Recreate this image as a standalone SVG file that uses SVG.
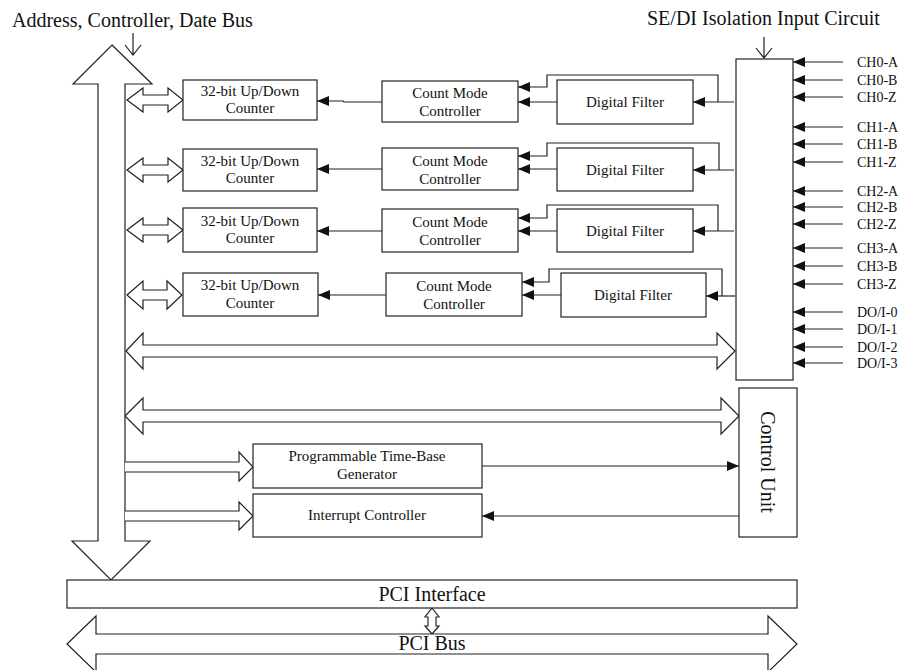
<svg xmlns="http://www.w3.org/2000/svg" width="902" height="670" viewBox="0 0 902 670">
<style>
  .box{fill:#fff;stroke:#222;stroke-width:1.2}
  .fat{fill:#fff;stroke:#222;stroke-width:1.2;stroke-linejoin:miter}
  .ln{fill:none;stroke:#222;stroke-width:1.2}
  .arr{fill:none;stroke:#222;stroke-width:1.2;marker-end:url(#ah)}
  text{font-family:"Liberation Serif","Times New Roman",serif;fill:#111}
  .t15{font-size:15px;text-anchor:middle}
  .t14{font-size:14px}
  .t19{font-size:20px}
  .t20{font-size:20px;text-anchor:middle}
</style>
<defs>
  <marker id="ah" markerWidth="12" markerHeight="10" refX="12" refY="5" orient="auto" markerUnits="userSpaceOnUse">
    <path d="M0,0 L12,5 L0,10 Z" fill="#111"/>
  </marker>
</defs>
<rect width="902" height="670" fill="#fff"/>

<!-- Titles -->
<g id="title-bus">
  <text class="t19" x="12" y="27">Address, Controller, Date Bus</text>
  <path class="ln" d="M133,33 L133,55 M125,45 L133,55 L141,45"/>
</g>
<g id="title-iso">
  <text class="t19" x="647" y="25">SE/DI Isolation Input Circuit</text>
  <path class="ln" d="M764,37 L764,58 M756,48 L764,58 L772,48"/>
</g>

<!-- Main vertical bus -->
<g id="bus-vertical">
  <path class="fat" d="M112,45 L152,84 L125,84 L125,541 L150,541 L111,580 L72,541 L98,541 L98,84 L73,84 Z"/>
</g>

<!-- Connectors -->
<g id="connectors">
  <!-- small double arrows bus<->counter -->
  <path class="fat" d="M127,100 L143,88 L143,95 L168,95 L168,88 L183,100 L168,112 L168,105 L143,105 L143,112 Z"/>
  <path class="fat" d="M127,170 L143,158 L143,165 L168,165 L168,158 L183,170 L168,182 L168,175 L143,175 L143,182 Z"/>
  <path class="fat" d="M127,230 L143,218 L143,225 L168,225 L168,218 L183,230 L168,242 L168,235 L143,235 L143,242 Z"/>
  <path class="fat" d="M127,295 L143,281 L143,290 L167,290 L167,281 L182,295 L167,309 L167,300 L143,300 L143,309 Z"/>

  <!-- CMC -> counter -->
  <path class="arr" d="M382,102 L344,102 L343,101 L317,101"/>
  <path class="arr" d="M382,169 L317,169"/>
  <path class="arr" d="M382,231 L317,231"/>
  <path class="arr" d="M386,295 L318,295"/>

  <!-- Filter -> CMC -->
  <path class="arr" d="M557,102 L518,102"/>
  <path class="arr" d="M557,169 L518,169"/>
  <path class="arr" d="M557,231 L518,231"/>
  <path class="arr" d="M561,295 L522,295"/>

  <!-- Isolation -> filter -->
  <path class="arr" d="M734,102 L693,102"/>
  <path class="arr" d="M734,170 L693,170"/>
  <path class="arr" d="M734,231 L693,231"/>
  <path class="arr" d="M735,296 L706,296"/>

  <!-- Feedback bypass -> CMC -->
  <path class="arr" d="M718,102 L718,75 L547,75 L547,87 L518,87"/>
  <path class="arr" d="M719,170 L719,143 L547,143 L547,156 L518,156"/>
  <path class="arr" d="M718,231 L718,205 L547,205 L547,218 L518,218"/>
  <path class="arr" d="M722,296 L722,269 L549,269 L549,282 L522,282"/>

  <!-- Wide buses -->
  <path class="fat" d="M126,351 L143,333 L143,345 L717,345 L717,333 L735,351 L717,369 L717,357 L143,357 L143,369 Z"/>
  <path class="fat" d="M125,416 L143,398 L143,410 L721,410 L721,398 L739,416 L721,434 L721,422 L143,422 L143,434 Z"/>

  <!-- Bus -> PTBG / Interrupt -->
  <path class="fat" d="M125,462 L239,462 L239,452 L253,467 L239,481 L239,472 L125,472"/>
  <path class="fat" d="M125,511 L239,511 L239,502 L253,516 L239,530 L239,521 L125,521"/>

  <!-- PTBG -> CU, CU -> Interrupt -->
  <path class="arr" d="M482,466 L739,466"/>
  <path class="arr" d="M739,516 L482,516"/>

  <!-- Channel inputs -->
  <path class="arr" d="M843,62 L793,62"/>
  <path class="arr" d="M843,80 L793,80"/>
  <path class="arr" d="M843,97 L793,97"/>
  <path class="arr" d="M843,127 L793,127"/>
  <path class="arr" d="M843,144 L793,144"/>
  <path class="arr" d="M843,162 L793,162"/>
  <path class="arr" d="M843,191 L793,191"/>
  <path class="arr" d="M843,207 L793,207"/>
  <path class="arr" d="M843,224 L793,224"/>
  <path class="arr" d="M843,248 L793,248"/>
  <path class="arr" d="M843,266 L793,266"/>
  <path class="arr" d="M843,284 L793,284"/>
  <path class="arr" d="M843,312 L793,312"/>
  <path class="arr" d="M843,329 L793,329"/>
  <path class="arr" d="M843,347 L793,347"/>
  <path class="arr" d="M843,363 L793,363"/>

  <!-- PCI interface <-> PCI bus -->
  <path class="fat" d="M432,608 L439,617 L436,617 L436,626 L439,626 L432,634 L425,626 L428,626 L428,617 L425,617 Z"/>
</g>

<!-- Counters -->
<g id="counter0"><rect class="box" x="183" y="80" width="134" height="40"/><text class="t15" x="250" y="96">32-bit Up/Down</text><text class="t15" x="250" y="113">Counter</text></g>
<g id="counter1"><rect class="box" x="183" y="149" width="134" height="42"/><text class="t15" x="250" y="166">32-bit Up/Down</text><text class="t15" x="250" y="183">Counter</text></g>
<g id="counter2"><rect class="box" x="183" y="208" width="134" height="44"/><text class="t15" x="250" y="226">32-bit Up/Down</text><text class="t15" x="250" y="243">Counter</text></g>
<g id="counter3"><rect class="box" x="183" y="273" width="135" height="43"/><text class="t15" x="250" y="290">32-bit Up/Down</text><text class="t15" x="250" y="308">Counter</text></g>

<!-- Count Mode Controllers -->
<g id="cmc0"><rect class="box" x="382" y="81" width="136" height="41"/><text class="t15" x="450" y="98">Count Mode</text><text class="t15" x="450" y="116">Controller</text></g>
<g id="cmc1"><rect class="box" x="382" y="148" width="136" height="42"/><text class="t15" x="450" y="166">Count Mode</text><text class="t15" x="450" y="184">Controller</text></g>
<g id="cmc2"><rect class="box" x="382" y="209" width="136" height="43"/><text class="t15" x="450" y="227">Count Mode</text><text class="t15" x="450" y="245">Controller</text></g>
<g id="cmc3"><rect class="box" x="386" y="273" width="136" height="43"/><text class="t15" x="454" y="291">Count Mode</text><text class="t15" x="454" y="309">Controller</text></g>

<!-- Digital Filters -->
<g id="filter0"><rect class="box" x="557" y="80" width="136" height="44"/><text class="t15" x="625" y="107">Digital Filter</text></g>
<g id="filter1"><rect class="box" x="557" y="148" width="136" height="43"/><text class="t15" x="625" y="175">Digital Filter</text></g>
<g id="filter2"><rect class="box" x="557" y="209" width="136" height="43"/><text class="t15" x="625" y="236">Digital Filter</text></g>
<g id="filter3"><rect class="box" x="561" y="273" width="145" height="44"/><text class="t15" x="633" y="300">Digital Filter</text></g>

<!-- Isolation input circuit -->
<g id="isolation"><rect class="box" x="736" y="59" width="57" height="321"/></g>

<!-- Channel labels -->
<g id="channel-labels">
  <text class="t14" x="857" y="67">CH0-A</text>
  <text class="t14" x="857" y="85">CH0-B</text>
  <text class="t14" x="857" y="102">CH0-Z</text>
  <text class="t14" x="857" y="132">CH1-A</text>
  <text class="t14" x="857" y="149">CH1-B</text>
  <text class="t14" x="857" y="167">CH1-Z</text>
  <text class="t14" x="857" y="196">CH2-A</text>
  <text class="t14" x="857" y="212">CH2-B</text>
  <text class="t14" x="857" y="229">CH2-Z</text>
  <text class="t14" x="857" y="253">CH3-A</text>
  <text class="t14" x="857" y="271">CH3-B</text>
  <text class="t14" x="857" y="289">CH3-Z</text>
  <text class="t14" x="857" y="317">DO/I-0</text>
  <text class="t14" x="857" y="334">DO/I-1</text>
  <text class="t14" x="857" y="352">DO/I-2</text>
  <text class="t14" x="857" y="368">DO/I-3</text>
</g>

<!-- Control unit -->
<g id="control-unit"><rect class="box" x="739" y="388" width="58" height="149"/><text class="t20" transform="translate(761,462) rotate(90)">Control Unit</text></g>

<!-- Programmable time-base generator -->
<g id="ptbg"><rect class="box" x="253" y="444" width="229" height="44"/><text class="t15" x="367" y="461">Programmable Time-Base</text><text class="t15" x="367" y="479">Generator</text></g>

<!-- Interrupt controller -->
<g id="interrupt"><rect class="box" x="253" y="494" width="229" height="43"/><text class="t15" x="367" y="520">Interrupt Controller</text></g>

<!-- PCI interface -->
<g id="pci-interface"><rect class="box" x="67" y="580" width="730" height="28"/><text class="t20" x="432" y="601">PCI Interface</text></g>

<!-- PCI bus -->
<g id="pci-bus"><path class="fat" d="M67,644 L96,616 L96,634 L768,634 L768,616 L797,644 L768,672 L768,654 L96,654 L96,672 Z"/><text class="t20" x="432" y="650">PCI Bus</text></g>
</svg>
